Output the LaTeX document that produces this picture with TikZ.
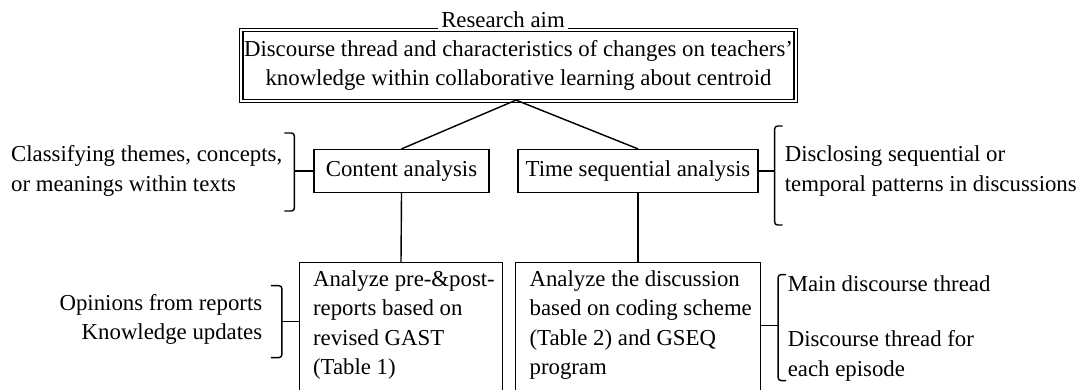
\documentclass[tikz,border=0pt]{standalone}
\usepackage{fontspec}
\setmainfont{Liberation Serif}
\usetikzlibrary{positioning}
\tikzset{
  box/.style={draw, line width=1.2pt, inner sep=0pt},
  txt/.style={inner sep=0pt},
  link/.style={line width=1.4pt},
  bracket/.style={line width=1.4pt, rounded corners=3pt},
}
\begin{document}
\begin{tikzpicture}[x=1pt, y=-1pt, font=\fontsize{22.8}{29.5}\selectfont]
\useasboundingbox (0,0) rectangle (1078,389);
\clip (0,0) rectangle (1078,389);

\node[box, minimum width=551pt, minimum height=68pt, align=center] (aim) at (518.5,65.5)
  {Discourse thread and characteristics of changes on teachers'\\knowledge within collaborative learning about centroid};
\node[anchor=base] (aimtitle) at (503,27) {Research aim};
\coordinate (ftl) at ([shift={(-2.5,-2.5)}]aim.north west);
\coordinate (fbl) at ([shift={(-2.5,2.5)}]aim.south west);
\coordinate (fbr) at ([shift={(2.5,2.5)}]aim.south east);
\coordinate (ftr) at ([shift={(2.5,-2.5)}]aim.north east);
\draw[line width=1pt] (aimtitle.west |- ftl) -- (ftl) -- (fbl) -- (fbr) -- (ftr) -- (aimtitle.east |- ftr);
\coordinate (apex) at ([shift={(-2.5,0)}]aim.south);

\node[box, minimum width=175pt, minimum height=43pt] (content) at (401.5,171) {Content analysis};
\node[box, minimum width=240pt, minimum height=43pt] (timeseq) at (638,171) {Time sequential analysis};
\draw[link] (apex) -- (content.north);
\draw[link] (apex) -- (timeseq.north);

\node[box, anchor=north, minimum width=203pt, minimum height=140pt] (gast) at (401,262) {};
\node[box, anchor=north, minimum width=245pt, minimum height=140pt] (coding) at (638,262) {};
\node[txt, anchor=north west, align=left] (gasttxt) at ([shift={(14,8)}]gast.north west)
  {Analyze pre-\&post-\\reports based on\\revised GAST\\(Table 1)};
\node[txt, anchor=north west, align=left] (codingtxt) at ([shift={(14.5,8)}]coding.north west)
  {Analyze the discussion\\based on coding scheme\\(Table 2) and GSEQ\\program};
\draw[link] (content.south) -- (gast.north);
\draw[link] (timeseq.south) -- (coding.north);

\coordinate (cabrace) at ([shift={(-19,0)}]content.west);
\draw[bracket] ([shift={(-10,-38)}]cabrace) -- ([shift={(0,-38)}]cabrace) -- ([shift={(0,40)}]cabrace) -- ([shift={(-10,40)}]cabrace);
\draw[link] (cabrace) -- (content.west);
\node[txt, align=left, left=12pt of cabrace] (catxt) {Classifying themes, concepts,\\or meanings within texts};

\coordinate (tsbrace) at ([shift={(16,0)}]timeseq.east);
\draw[bracket] ([shift={(8,-45)}]tsbrace) -- ([shift={(0,-45)}]tsbrace) -- ([shift={(0,54)}]tsbrace) -- ([shift={(8,54)}]tsbrace);
\draw[link] (tsbrace) -- (timeseq.east);
\node[txt, align=left, right=10pt of tsbrace] (tstxt) {Disclosing sequential or\\temporal patterns in discussions};

\coordinate (gbrace) at ([shift={(-17,-11)}]gast.west);
\draw[bracket] ([shift={(-11,-36)}]gbrace) -- ([shift={(0,-36)}]gbrace) -- ([shift={(0,36)}]gbrace) -- ([shift={(-11,36)}]gbrace);
\draw[link] (gbrace) -- (gbrace -| gast.west);
\node[txt, align=right, anchor=east] (gastnotes) at ([shift={(-19.5,-2)}]gbrace) {Opinions from reports\\Knowledge updates};

\coordinate (cbrace) at ([shift={(17,-7)}]coding.east);
\draw[bracket] ([shift={(8,-51)}]cbrace) -- ([shift={(0,-51)}]cbrace) -- ([shift={(0,55)}]cbrace) -- ([shift={(8,55)}]cbrace);
\draw[link] (cbrace) -- (cbrace -| coding.east);
\node[txt, align=left, anchor=west] (codingnotes) at ([shift={(9.5,3)}]cbrace) {Main discourse thread\\[25.5pt]Discourse thread for\\each episode};
\end{tikzpicture}
\end{document}
